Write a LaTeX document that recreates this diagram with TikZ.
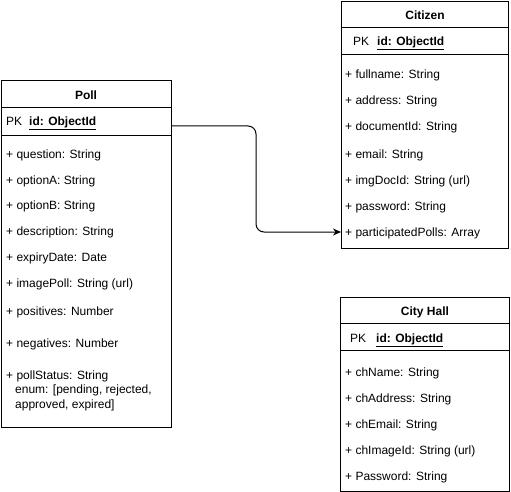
\documentclass[tikz,border=0pt]{standalone}
\usepackage{fontspec}
\setmainfont{Liberation Sans}
\usetikzlibrary{arrows.meta,positioning}

\begin{document}
\begin{tikzpicture}[x=1pt,y=-1pt,
  entity/.style={draw,line width=1pt,anchor=north west,inner sep=0pt},
  ttl/.style={font=\fontsize{12}{14}\selectfont\bfseries,inner sep=0pt,text height=8.6pt,text depth=0pt},
  attr/.style={anchor=west,inner sep=0pt,font=\fontsize{12}{14}\selectfont,text height=8.6pt,text depth=0pt},
  sep/.style={line width=1pt},
  rel/.style={-{Stealth[length=8pt,width=7pt]},line width=1pt,rounded corners=8pt}
]
\useasboundingbox (0,0) rectangle (511,492);

% Poll
\node[entity,minimum width=170pt,minimum height=347pt] (poll) at (1,80) {};
\draw[sep] ([yshift=-28pt]poll.north west) -- ([yshift=-28pt]poll.north east);
\draw[sep] ([yshift=-56pt]poll.north west) -- ([yshift=-56pt]poll.north east);
\node[ttl] (polltitle) at (86,95) {Poll};
\node[attr] (pollid) at (6,121) {PK\hspace{7pt}\underline{\textbf{id: ObjectId}}};
\node[attr] (pq)   at (6,154) {+ question: String};
\node[attr] (pa)   at (6,180) {+ optionA: String};
\node[attr] (pb)   at (6,205) {+ optionB: String};
\node[attr] (pd)   at (6,231) {+ description: String};
\node[attr] (pe)   at (6,257) {+ expiryDate: Date};
\node[attr] (pi)   at (6,283) {+ imagePoll: String (url)};
\node[attr] (ppos) at (6,311) {+ positives: Number};
\node[attr] (pneg) at (6,343) {+ negatives: Number};
\node[attr,anchor=north west,align=left,text height=,text depth=,
  font=\fontsize{12}{14.5}\selectfont] (pstat) at (6,370.5)
  {+ pollStatus: String\\\hspace*{9pt}enum: [pending, rejected,\\\hspace*{9pt}approved, expired]};

% Citizen
\node[entity,minimum width=167pt,minimum height=247pt] (citizen) at (341,1) {};
\draw[sep] ([yshift=-27pt]citizen.north west) -- ([yshift=-27pt]citizen.north east);
\draw[sep] ([yshift=-54pt]citizen.north west) -- ([yshift=-54pt]citizen.north east);
\node[ttl] (cittitle) at (425,15) {Citizen};
\node[attr] (citid) at (353,41) {PK\hspace{8pt}\underline{\textbf{id: ObjectId}}};
\node[attr] (cfn)  at (345,74)  {+ fullname: String};
\node[attr] (cad)  at (345,100) {+ address: String};
\node[attr] (cdoc) at (345,126) {+ documentId: String};
\node[attr] (cem)  at (345,154) {+ email: String};
\node[attr] (cimg) at (345,180) {+ imgDocId: String (url)};
\node[attr] (cpw)  at (345,206) {+ password: String};
\node[attr] (cpp)  at (345,232) {+ participatedPolls: Array};

% City Hall
\node[entity,minimum width=169pt,minimum height=194pt] (cityhall) at (340,297) {};
\draw[sep] ([yshift=-26pt]cityhall.north west) -- ([yshift=-26pt]cityhall.north east);
\draw[sep] ([yshift=-53pt]cityhall.north west) -- ([yshift=-53pt]cityhall.north east);
\node[ttl] (chtitle) at (425,311) {City Hall};
\node[attr] (chid) at (350,338) {PK\hspace{10pt}\underline{\textbf{id: ObjectId}}};
\node[attr] (chn)  at (345,372) {+ chName: String};
\node[attr] (cha)  at (345,398) {+ chAddress: String};
\node[attr] (che)  at (345,424) {+ chEmail: String};
\node[attr] (chi)  at (345,450) {+ chImageId: String (url)};
\node[attr] (chp)  at (345,476) {+ Password: String};

% relation
\coordinate (pollpk) at (171,126);
\draw[rel] (pollpk) -| (256,180) |- (citizen.west |- cpp);
\end{tikzpicture}
\end{document}
